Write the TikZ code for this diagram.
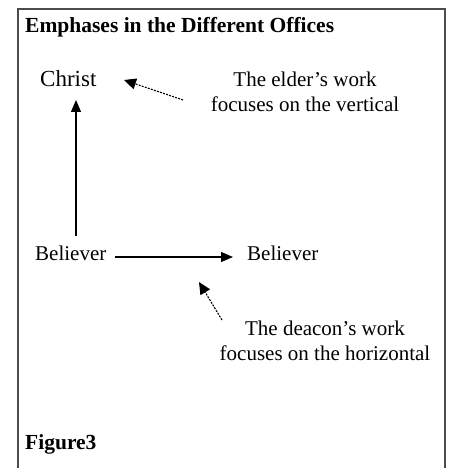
\documentclass[tikz,border=0pt]{standalone}
\usepackage{fontspec}
\setmainfont{Liberation Serif}
\usetikzlibrary{arrows.meta}
\begin{document}
\begin{tikzpicture}[x=1pt,y=-1pt,
  lbl/.style={inner sep=0pt, font=\fontsize{21}{25}\selectfont},
  big/.style={inner sep=0pt, font=\fontsize{23}{27}\selectfont},
  ttl/.style={inner sep=0pt, font=\fontsize{21.5}{25}\selectfont\bfseries},
  arr/.style={line width=1.3pt, -{Triangle[length=12pt,width=10pt]}},
  darr/.style={line width=1.1pt, dash pattern=on 2pt off 1.2pt, -{Triangle[length=12pt,width=11pt]}}]
\useasboundingbox (0,0) rectangle (455,468);
\draw[line width=1.6pt, black!70] (18,472) -- (18,9) -- (445,9) -- (445,472);
\node[ttl, anchor=base west] (title) at (25,33) {Emphases in the Different Offices};
\node[big, anchor=base west] (christ) at (40,87) {Christ};
\node[lbl, anchor=base west] (bl) at (35,260) {Believer};
\node[lbl, anchor=base west] (br) at (247,260) {Believer};
\node[lbl, anchor=base, align=center] (elder) at (305,112) {The elder’s work\\focuses on the vertical};
\node[lbl, anchor=base, align=center] (deacon) at (325,360) {The deacon’s work\\focuses on the horizontal};
\node[ttl, anchor=base west] (fig) at (25,449) {Figure3};
\coordinate (vt) at (76,236);
\coordinate (vh) at (76,100);
\coordinate (ht) at (115,257);
\coordinate (hh) at (233,257);
\coordinate (et) at (183,100);
\coordinate (eh) at (124,80);
\coordinate (dt) at (222,320);
\coordinate (dh) at (199,282);
\draw[arr] (vt) -- (vh);
\draw[arr] (ht) -- (hh);
\draw[darr] (et) -- (eh);
\draw[darr] (dt) -- (dh);
\end{tikzpicture}
\end{document}
